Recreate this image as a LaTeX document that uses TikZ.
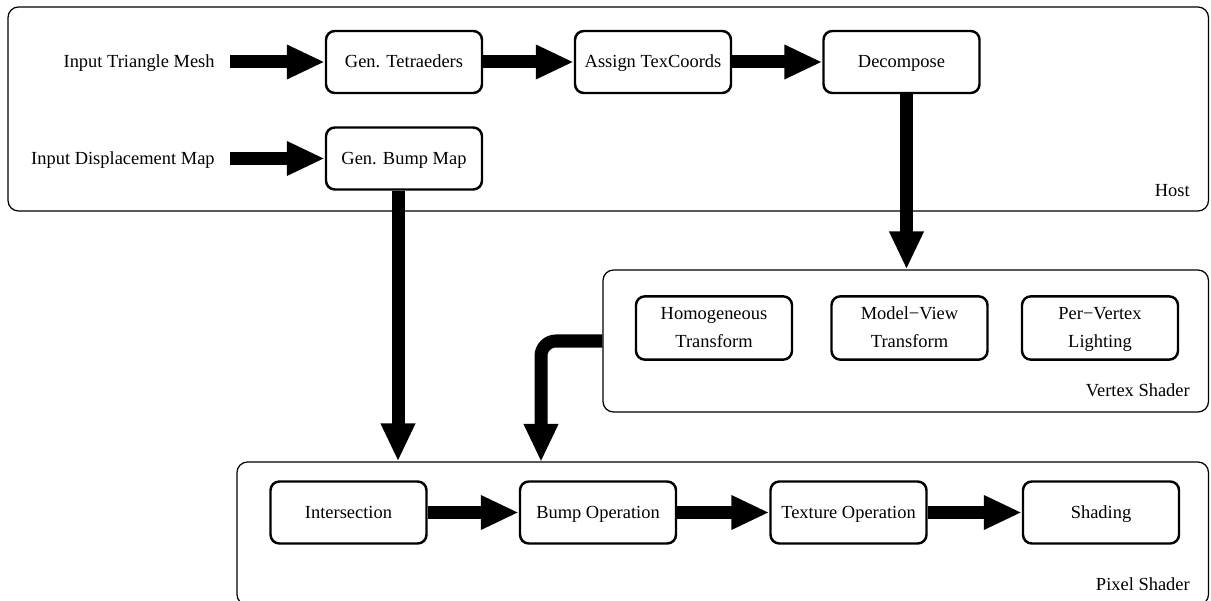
\documentclass[tikz,border=0pt]{standalone}
\usepackage{fontspec}
\setmainfont{Liberation Serif}
\usetikzlibrary{arrows.meta}

\begin{document}
\begin{tikzpicture}[>={Triangle[width=0.64cm,length=0.76cm]},
    font=\fontsize{10.5}{16}\selectfont,
    box/.style={draw, line width=1.4pt, rounded corners=5pt, align=center,
      minimum width=3.12cm, minimum height=1.24cm, inner sep=2pt,
      execute at begin node=\strut},
    stage/.style={draw, line width=0.7pt, rounded corners=6pt, inner sep=0pt},
    flow/.style={->, line width=7.4pt},
    tag/.style={anchor=south east, inner sep=0pt}]
  \useasboundingbox (0,0) rectangle (24.22,-12.02);
  % the three stages
  \node[stage, minimum width=24.01cm, minimum height=4.08cm] (host) at (12.165,-2.18) {};
  \node[stage, minimum width=12.11cm, minimum height=2.84cm] (vshader) at (18.115,-6.82) {};
  \node[stage, minimum width=19.43cm, minimum height=2.86cm] (pshader) at (14.455,-10.67) {};
  \node[tag] (hostlbl) at ([shift={(-0.38,0.3)}]host.south east) {Host};
  \node[tag] (vslbl) at ([shift={(-0.38,0.3)}]vshader.south east) {Vertex Shader};
  \node[tag] (pslbl) at ([shift={(-0.38,0.3)}]pshader.south east) {Pixel Shader};
  % host side
  \node[anchor=east, inner sep=0pt] (intri) at (4.3,-1.24) {\strut Input Triangle Mesh};
  \node[anchor=east, inner sep=0pt] (indisp) at (4.3,-3.17) {\strut Input Displacement Map};
  \node[box] (tet) at (8.08,-1.24) {Gen. Tetraeders};
  \node[box] (texc) at (13.06,-1.24) {Assign TexCoords};
  \node[box] (dec) at (18.03,-1.24) {Decompose};
  \node[box] (gbump) at (8.08,-3.17) {Gen. Bump Map};
  % vertex shader
  \node[box] (homog) at (14.28,-6.56) {\strut Homogeneous\\\strut Transform};
  \node[box] (mview) at (18.19,-6.56) {\strut Model−View\\\strut Transform};
  \node[box] (light) at (22.0,-6.56) {\strut Per−Vertex\\\strut Lighting};
  % pixel shader
  \node[box] (isect) at (6.97,-10.25) {Intersection};
  \node[box] (bump) at (11.96,-10.25) {Bump Operation};
  \node[box] (tex) at (16.97,-10.25) {Texture Operation};
  \node[box] (shade) at (22.02,-10.25) {Shading};
  \coordinate (bumpin) at (10.82,-9.24);
  % data flow
  \draw[flow] ([xshift=0.3cm]intri.east) -- (tet.west);
  \draw[flow] ([xshift=0.3cm]indisp.east) -- (gbump.west);
  \draw[flow] (tet.east) -- (texc.west);
  \draw[flow] (texc.east) -- (dec.west);
  \draw[flow] ([xshift=0.1cm]dec.south) -- ([xshift=0.1cm]dec.south |- vshader.north);
  \draw[flow] ([xshift=-0.12cm]gbump.south) -- ([xshift=-0.12cm]gbump.south |- pshader.north);
  \draw[flow, rounded corners=0.3cm] (vshader.west) -| (bumpin);
  \draw[flow] (isect.east) -- (bump.west);
  \draw[flow] (bump.east) -- (tex.west);
  \draw[flow] (tex.east) -- (shade.west);
\end{tikzpicture}
\end{document}
